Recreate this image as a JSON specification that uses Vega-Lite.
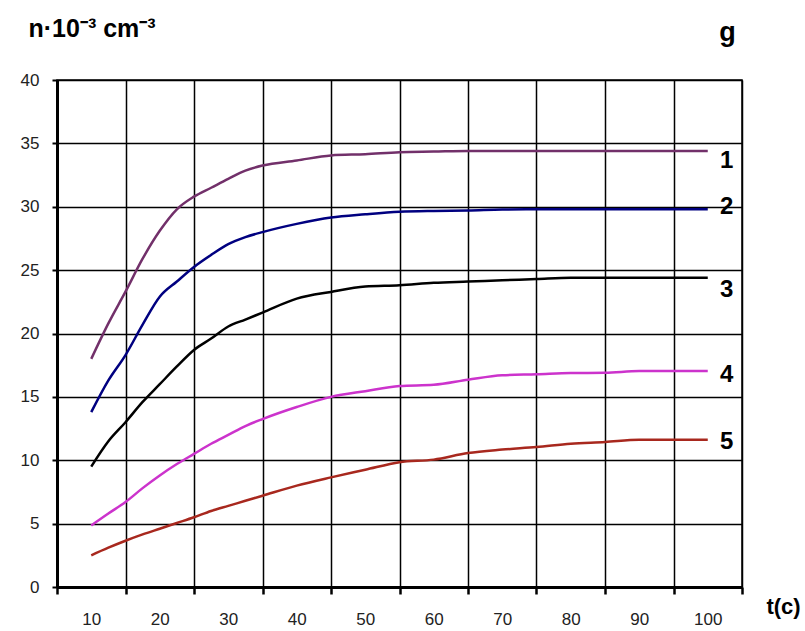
{
  "$schema": "https://vega.github.io/schema/vega-lite/v6.json",
  "width": 685,
  "height": 507,
  "autosize": {"type": "none"},
  "padding": {"left": 57, "top": 80, "right": 63, "bottom": 44},
  "background": "white",
  "config": {
    "font": "Liberation Sans",
    "view": {"stroke": "#000000", "strokeWidth": 1.5}
  },
  "encoding": {
    "x": {
      "field": "t",
      "type": "quantitative",
      "scale": {"domain": [5, 105], "nice": false, "zero": false},
      "axis": {
        "values": [5, 15, 25, 35, 45, 55, 65, 75, 85, 95, 105],
        "grid": true,
        "gridColor": "#000000",
        "gridWidth": 1.5,
        "gridOpacity": 1,
        "domainColor": "#000000",
        "domainWidth": 3,
        "tickColor": "#000000",
        "tickWidth": 2.5,
        "tickSize": 7,
        "labelExpr": "datum.value < 100 ? '' + (datum.value + 5) : ''",
        "labelOffset": 34.25,
        "labelPadding": 17,
        "labelFlush": false,
        "labelOverlap": false,
        "labelFontSize": 17,
        "labelColor": "#222222",
        "title": "t(c)",
        "titleX": 726,
        "titleY": 26,
        "titleAlign": "center",
        "titleBaseline": "alphabetic",
        "titleFontSize": 22,
        "titleFontWeight": "bold",
        "titleColor": "#000000"
      }
    }
  },
  "layer": [
    {
      "data": {
        "values": [
          {"curve": "1", "t": 10, "n": 18.0}, {"curve": "1", "t": 12.5, "n": 20.8}, {"curve": "1", "t": 15, "n": 23.3}, {"curve": "1", "t": 17.5, "n": 25.9}, {"curve": "1", "t": 20, "n": 28.1}, {"curve": "1", "t": 22.5, "n": 29.8}, {"curve": "1", "t": 25, "n": 30.8}, {"curve": "1", "t": 27.5, "n": 31.5}, {"curve": "1", "t": 30, "n": 32.2}, {"curve": "1", "t": 32.5, "n": 32.85}, {"curve": "1", "t": 35, "n": 33.25}, {"curve": "1", "t": 40, "n": 33.65}, {"curve": "1", "t": 45, "n": 34.05}, {"curve": "1", "t": 50, "n": 34.15}, {"curve": "1", "t": 55, "n": 34.3}, {"curve": "1", "t": 60, "n": 34.35}, {"curve": "1", "t": 65, "n": 34.4}, {"curve": "1", "t": 70, "n": 34.4}, {"curve": "1", "t": 75, "n": 34.4}, {"curve": "1", "t": 80, "n": 34.4}, {"curve": "1", "t": 85, "n": 34.4}, {"curve": "1", "t": 90, "n": 34.4}, {"curve": "1", "t": 95, "n": 34.4}, {"curve": "1", "t": 100, "n": 34.4},
          {"curve": "2", "t": 10, "n": 13.8}, {"curve": "2", "t": 12.5, "n": 16.3}, {"curve": "2", "t": 15, "n": 18.3}, {"curve": "2", "t": 17.5, "n": 20.7}, {"curve": "2", "t": 20, "n": 22.9}, {"curve": "2", "t": 22.5, "n": 24.1}, {"curve": "2", "t": 25, "n": 25.25}, {"curve": "2", "t": 27.5, "n": 26.2}, {"curve": "2", "t": 30, "n": 27.05}, {"curve": "2", "t": 32.5, "n": 27.6}, {"curve": "2", "t": 35, "n": 28.0}, {"curve": "2", "t": 40, "n": 28.65}, {"curve": "2", "t": 45, "n": 29.15}, {"curve": "2", "t": 50, "n": 29.4}, {"curve": "2", "t": 55, "n": 29.6}, {"curve": "2", "t": 60, "n": 29.67}, {"curve": "2", "t": 65, "n": 29.7}, {"curve": "2", "t": 70, "n": 29.78}, {"curve": "2", "t": 75, "n": 29.8}, {"curve": "2", "t": 80, "n": 29.8}, {"curve": "2", "t": 85, "n": 29.8}, {"curve": "2", "t": 90, "n": 29.8}, {"curve": "2", "t": 95, "n": 29.8}, {"curve": "2", "t": 100, "n": 29.8},
          {"curve": "3", "t": 10, "n": 9.5}, {"curve": "3", "t": 12.5, "n": 11.5}, {"curve": "3", "t": 15, "n": 13.0}, {"curve": "3", "t": 17.5, "n": 14.6}, {"curve": "3", "t": 20, "n": 16.0}, {"curve": "3", "t": 22.5, "n": 17.4}, {"curve": "3", "t": 25, "n": 18.7}, {"curve": "3", "t": 27.5, "n": 19.6}, {"curve": "3", "t": 30, "n": 20.55}, {"curve": "3", "t": 32.5, "n": 21.1}, {"curve": "3", "t": 35, "n": 21.65}, {"curve": "3", "t": 40, "n": 22.75}, {"curve": "3", "t": 45, "n": 23.28}, {"curve": "3", "t": 50, "n": 23.7}, {"curve": "3", "t": 55, "n": 23.8}, {"curve": "3", "t": 60, "n": 24.0}, {"curve": "3", "t": 65, "n": 24.1}, {"curve": "3", "t": 70, "n": 24.2}, {"curve": "3", "t": 75, "n": 24.3}, {"curve": "3", "t": 80, "n": 24.4}, {"curve": "3", "t": 85, "n": 24.4}, {"curve": "3", "t": 90, "n": 24.4}, {"curve": "3", "t": 95, "n": 24.4}, {"curve": "3", "t": 100, "n": 24.4},
          {"curve": "4", "t": 10, "n": 4.86}, {"curve": "4", "t": 12.5, "n": 5.8}, {"curve": "4", "t": 15, "n": 6.7}, {"curve": "4", "t": 17.5, "n": 7.8}, {"curve": "4", "t": 20, "n": 8.8}, {"curve": "4", "t": 22.5, "n": 9.7}, {"curve": "4", "t": 25, "n": 10.5}, {"curve": "4", "t": 27.5, "n": 11.3}, {"curve": "4", "t": 30, "n": 12.0}, {"curve": "4", "t": 32.5, "n": 12.7}, {"curve": "4", "t": 35, "n": 13.25}, {"curve": "4", "t": 40, "n": 14.2}, {"curve": "4", "t": 45, "n": 15.0}, {"curve": "4", "t": 50, "n": 15.45}, {"curve": "4", "t": 55, "n": 15.85}, {"curve": "4", "t": 60, "n": 15.95}, {"curve": "4", "t": 65, "n": 16.35}, {"curve": "4", "t": 70, "n": 16.7}, {"curve": "4", "t": 75, "n": 16.78}, {"curve": "4", "t": 80, "n": 16.88}, {"curve": "4", "t": 85, "n": 16.9}, {"curve": "4", "t": 90, "n": 17.04}, {"curve": "4", "t": 95, "n": 17.04}, {"curve": "4", "t": 100, "n": 17.04},
          {"curve": "5", "t": 10, "n": 2.5}, {"curve": "5", "t": 12.5, "n": 3.1}, {"curve": "5", "t": 15, "n": 3.65}, {"curve": "5", "t": 17.5, "n": 4.15}, {"curve": "5", "t": 20, "n": 4.6}, {"curve": "5", "t": 22.5, "n": 5.05}, {"curve": "5", "t": 25, "n": 5.5}, {"curve": "5", "t": 27.5, "n": 6.0}, {"curve": "5", "t": 30, "n": 6.4}, {"curve": "5", "t": 32.5, "n": 6.8}, {"curve": "5", "t": 35, "n": 7.2}, {"curve": "5", "t": 40, "n": 8.0}, {"curve": "5", "t": 45, "n": 8.65}, {"curve": "5", "t": 50, "n": 9.25}, {"curve": "5", "t": 55, "n": 9.85}, {"curve": "5", "t": 60, "n": 10.05}, {"curve": "5", "t": 65, "n": 10.57}, {"curve": "5", "t": 70, "n": 10.84}, {"curve": "5", "t": 75, "n": 11.04}, {"curve": "5", "t": 80, "n": 11.3}, {"curve": "5", "t": 85, "n": 11.44}, {"curve": "5", "t": 90, "n": 11.62}, {"curve": "5", "t": 95, "n": 11.62}, {"curve": "5", "t": 100, "n": 11.62}
        ]
      },
      "mark": {"type": "line", "strokeWidth": 2.5, "interpolate": "monotone"},
      "encoding": {
        "y": {
          "field": "n",
          "type": "quantitative",
          "scale": {"domain": [0, 40], "nice": false, "zero": true},
          "axis": {
            "orient": "left",
            "values": [0, 5, 10, 15, 20, 25, 30, 35, 40],
            "grid": true,
            "gridColor": "#000000",
            "gridWidth": 1.5,
            "gridOpacity": 1,
            "domainColor": "#000000",
            "domainWidth": 3,
            "tickColor": "#000000",
            "tickWidth": 2,
            "tickSize": 5,
            "labelPadding": 13,
            "labelFontSize": 17,
            "labelColor": "#222222",
            "labelFlush": false,
            "labelOverlap": false,
            "title": "n·10⁻³ cm⁻³",
            "titleAngle": 0,
            "titleAlign": "left",
            "titleBaseline": "alphabetic",
            "titleX": -29,
            "titleY": -44,
            "titleFontSize": 25,
            "titleFontWeight": "bold",
            "titleColor": "#000000"
          }
        },
        "color": {
          "field": "curve",
          "type": "nominal",
          "scale": {"domain": ["1", "2", "3", "4", "5"], "range": ["#72306a", "#000080", "#000000", "#cc33cc", "#a8281e"]},
          "legend": null
        }
      }
    },
    {
      "data": {
        "values": [
          {"label": "1", "t": 100, "n": 33.6},
          {"label": "2", "t": 100, "n": 30.0},
          {"label": "3", "t": 100, "n": 23.45},
          {"label": "4", "t": 100, "n": 16.7},
          {"label": "5", "t": 100, "n": 11.44}
        ]
      },
      "mark": {"type": "text", "fontSize": 24, "fontWeight": "bold", "dx": 19, "align": "center", "baseline": "middle", "color": "#000000"},
      "encoding": {
        "y": {
          "field": "n",
          "type": "quantitative",
          "scale": {"domain": [0, 40], "nice": false, "zero": true},
          "axis": {
            "orient": "right",
            "grid": false,
            "labels": false,
            "ticks": false,
            "domain": false,
            "title": "g",
            "titleAngle": 0,
            "titleAlign": "center",
            "titleBaseline": "alphabetic",
            "titleX": -15,
            "titleY": -40,
            "titleFontSize": 27,
            "titleFontWeight": "bold",
            "titleColor": "#000000"
          }
        },
        "text": {"field": "label"}
      }
    }
  ],
  "resolve": {"axis": {"y": "independent"}}
}
